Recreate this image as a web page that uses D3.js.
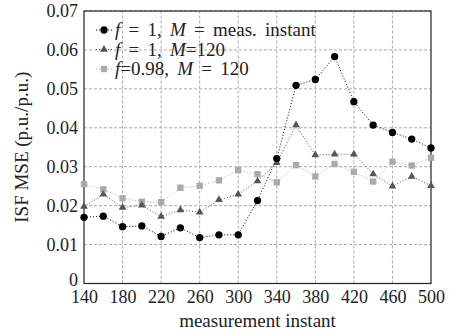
<!DOCTYPE html>
<html>
<head>
<meta charset="utf-8">
<script src="https://cdn.jsdelivr.net/npm/d3@7"></script>
<style>
  body { margin: 0; background: #fff; }
  svg text { font-family: "Liberation Serif", "DejaVu Serif", serif; fill: #222; }
</style>
</head>
<body>
<script>
var instants = [140, 160, 180, 200, 220, 240, 260, 280, 300, 320, 340, 360, 380, 400, 420, 440, 460, 480, 500];

var mseMeas = [0.0170, 0.0173, 0.0146, 0.0148, 0.0121, 0.0143, 0.0118, 0.0125, 0.0125, 0.0213,
               0.0321, 0.0509, 0.0524, 0.0583, 0.0467, 0.0407, 0.0388, 0.0371, 0.0348];
var mse120 = [0.0198, 0.0229, 0.0195, 0.0201, 0.0172, 0.0189, 0.0183, 0.0215, 0.0229, 0.0263,
              0.0310, 0.0407, 0.0330, 0.0332, 0.0332, 0.0281, 0.0250, 0.0275, 0.0251];
var mse098 = [0.0255, 0.0242, 0.0219, 0.0210, 0.0209, 0.0246, 0.0251, 0.0265, 0.0291, 0.0281,
              0.0260, 0.0304, 0.0275, 0.0307, 0.0287, 0.0262, 0.0313, 0.0303, 0.0323];

var xTicks = [140, 180, 220, 260, 300, 340, 380, 420, 460, 500];
var yTicks = [0, 0.01, 0.02, 0.03, 0.04, 0.05, 0.06, 0.07];
var yTickLabels = ["0", "0.01", "0.02", "0.03", "0.04", "0.05", "0.06", "0.07"];

var series = [
  { values: mseMeas, symbol: d3.symbolCircle, size: 42, color: "#000", line: "#000",
    label: [["f", true], [" = 1, ", false], ["M", true], [" = meas. instant", false]] },
  { values: mse120, symbol: d3.symbolTriangle, size: 26, color: "#555", line: "#555",
    label: [["f", true], [" = 1, ", false], ["M", true], ["=120", false]] },
  { values: mse098, symbol: d3.symbolSquare, size: 40, color: "#aaa", line: "#aaa",
    label: [["f", true], ["=0.98, ", false], ["M", true], [" = 120", false]] }
];

var width = 450, height = 335;
var margin = { left: 84, right: 19, top: 11, bottom: 51.5 };

var svg = d3.select("body").append("svg")
    .attr("width", width)
    .attr("height", height);

var x = d3.scaleLinear().domain([140, 500]).range([margin.left, width - margin.right]);
var y = d3.scaleLinear().domain([0, 0.07]).range([height - margin.bottom, margin.top]);

// grid
svg.append("g").selectAll("line")
    .data(xTicks.slice(1, -1))
  .enter().append("line")
    .attr("x1", function(d) { return x(d); })
    .attr("x2", function(d) { return x(d); })
    .attr("y1", y(0)).attr("y2", y(0.07))
    .attr("stroke", "#aaa").attr("stroke-dasharray", "3,2");

svg.append("g").selectAll("line")
    .data(yTicks.slice(1))
  .enter().append("line")
    .attr("y1", function(d) { return y(d); })
    .attr("y2", function(d) { return y(d); })
    .attr("x1", x(140)).attr("x2", x(500))
    .attr("stroke", "#aaa").attr("stroke-dasharray", "3,2");

// frame
svg.append("rect")
    .attr("x", x(140)).attr("y", y(0.07))
    .attr("width", x(500) - x(140)).attr("height", y(0) - y(0.07))
    .attr("fill", "none").attr("stroke", "#222").attr("stroke-width", 1.2);

// axes (labels only)
var xAxis = d3.axisBottom(x).tickValues(xTicks).tickSize(0).tickPadding(7).tickFormat(d3.format("d"));
svg.append("g")
    .attr("transform", "translate(0," + y(0) + ")")
    .call(xAxis)
    .attr("font-family", null)
    .call(function(g) { g.select(".domain").remove(); })
    .selectAll("text")
    .style("font-size", "18px").attr("fill", "#333");

var yAxis = d3.axisLeft(y).tickValues(yTicks).tickSize(0).tickPadding(6)
    .tickFormat(function(d, i) { return yTickLabels[i]; });
svg.append("g")
    .attr("transform", "translate(" + x(140) + ",0)")
    .call(yAxis)
    .attr("font-family", null)
    .call(function(g) { g.select(".domain").remove(); })
    .selectAll("text")
    .style("font-size", "18px").attr("fill", "#333")
    .attr("dy", function(d) { return d === 0 ? "0.1em" : "0.32em"; });

// axis titles
svg.append("text")
    .attr("x", (x(140) + x(500)) / 2)
    .attr("y", 327)
    .attr("text-anchor", "middle")
    .style("font-size", "19px")
    .text("measurement instant");

svg.append("text")
    .attr("transform", "translate(28," + ((y(0) + y(0.07)) / 2) + ") rotate(-90)")
    .attr("text-anchor", "middle")
    .style("font-size", "19px")
    .text("ISF MSE (p.u./p.u.)");

// series
var line = d3.line()
    .x(function(d, i) { return x(instants[i]); })
    .y(function(d) { return y(d); });

series.slice().reverse().forEach(function(s) {
  svg.append("path")
      .datum(s.values)
      .attr("d", line)
      .attr("fill", "none")
      .attr("stroke", s.line)
      .attr("stroke-width", 1)
      .attr("stroke-dasharray", "1,2");

  svg.append("g").selectAll("path")
      .data(s.values)
    .enter().append("path")
      .attr("transform", function(d, i) { return "translate(" + x(instants[i]) + "," + y(d) + ")"; })
      .attr("d", d3.symbol().type(s.symbol).size(s.size))
      .attr("fill", s.color);
});

// legend
var legend = svg.append("g");
series.forEach(function(s, i) {
  var ly = 30 + i * 19.5;
  legend.append("line")
      .attr("x1", 96).attr("x2", 112)
      .attr("y1", ly).attr("y2", ly)
      .attr("stroke", s.line).attr("stroke-dasharray", "1,2");
  legend.append("path")
      .attr("transform", "translate(104," + ly + ")")
      .attr("d", d3.symbol().type(s.symbol).size(s.size))
      .attr("fill", s.color);
  var t = legend.append("text")
      .attr("x", 115).attr("y", ly + 6)
      .attr("xml:space", "preserve")
      .style("font-size", "19px")
      .style("word-spacing", "3.5px");
  s.label.forEach(function(p) {
    t.append("tspan").text(p[0]).style("font-style", p[1] ? "italic" : "normal");
  });
});
</script>
</body>
</html>
